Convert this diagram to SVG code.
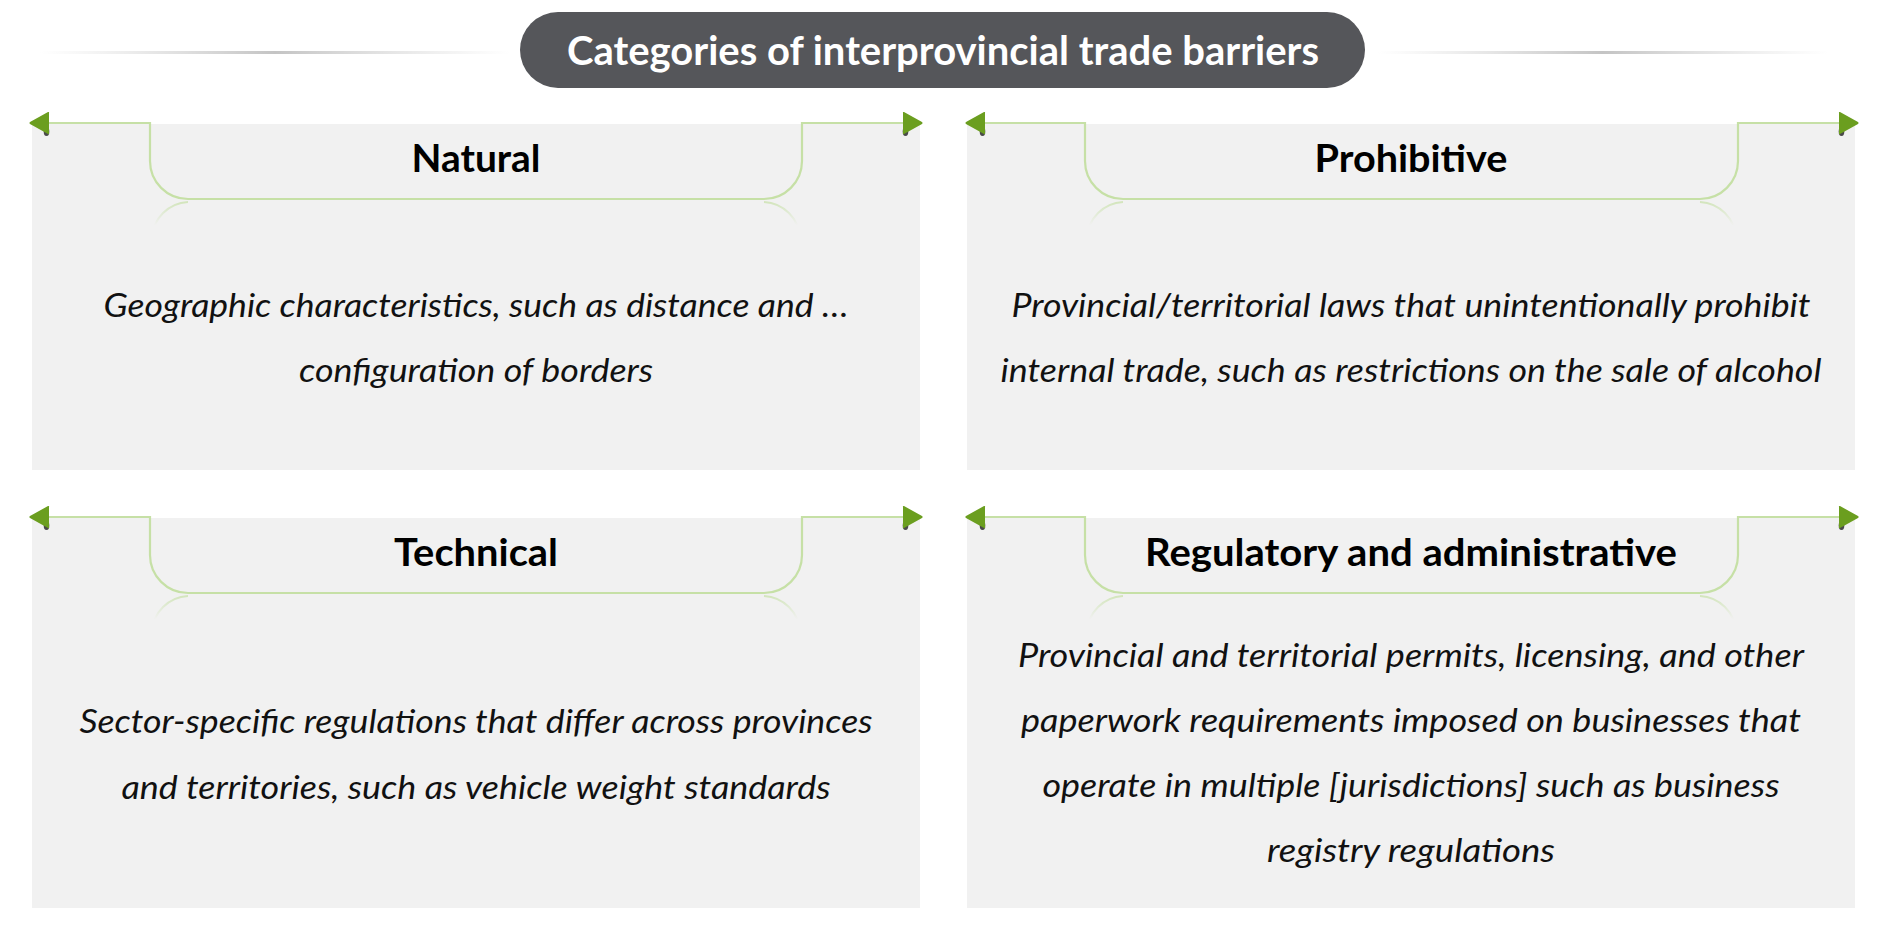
<svg xmlns="http://www.w3.org/2000/svg" width="1898" height="928" viewBox="0 0 1898 928">
  <style>
    .box { fill: #f1f1f1; }
    .bracket { fill: none; stroke: #c6e0a6; stroke-width: 2.2; }
    .refl { fill: none; stroke: url(#reflGrad); stroke-width: 2; }
    .title { font-family: Lato, "Open Sans", sans-serif; font-weight: 700; font-size: 40px; fill: #ffffff; text-anchor: middle; }
    .label { font-family: Lato, "Open Sans", sans-serif; font-weight: 700; font-size: 38px; fill: #000000; text-anchor: middle; }
    .body { font-family: Lato, "Open Sans", sans-serif; font-style: italic; font-size: 32px; fill: #111111; text-anchor: middle; }
  </style>
  <defs>
    <linearGradient id="lineGrad" x1="0" y1="0" x2="1" y2="0">
      <stop offset="0" stop-color="#d4d4d4" stop-opacity="0"/>
      <stop offset="0.5" stop-color="#c4c4c4" stop-opacity="1"/>
      <stop offset="1" stop-color="#d4d4d4" stop-opacity="0"/>
    </linearGradient>
    <linearGradient id="reflGrad" x1="0" y1="0" x2="0" y2="1">
      <stop offset="0" stop-color="#c6e0a6" stop-opacity="0.7"/>
      <stop offset="0.65" stop-color="#c6e0a6" stop-opacity="0"/>
    </linearGradient>
    <g id="arrowR">
      <ellipse cx="-17.5" cy="8.5" rx="2.8" ry="4.5" fill="#4a4a4a"/>
      <path d="M-19,-11 L-1,-0.9 Q0.3,0 -1,0.9 L-19,11 Q-20.5,11.5 -20,10 L-20,-10 Q-20.5,-11.5 -19,-11 Z" fill="#6b9e1f"/>
    </g>
  </defs>

  <rect width="1898" height="928" fill="#ffffff"/>

  <g id="title">
    <rect x="40" y="51" width="470" height="3" fill="url(#lineGrad)"/>
    <rect x="1378" y="51" width="450" height="3" fill="url(#lineGrad)"/>
    <rect x="520" y="12" width="845" height="76" rx="38" ry="38" fill="#55565a"/>
    <text class="title" x="943" y="65" textLength="752" lengthAdjust="spacingAndGlyphs">Categories of interprovincial trade barriers</text>
  </g>

  <g id="node-natural">
    <rect class="box" x="32" y="124" width="888" height="346"/>
    <path class="bracket" d="M46,123 H150 V161 A38,38 0 0 0 188,199 H764 A38,38 0 0 0 802,161 V123 H906"/>
    <path class="refl" d="M188,202 A38,38 0 0 0 152,238"/>
    <path class="refl" d="M764,202 A38,38 0 0 1 800,238"/>
    <use href="#arrowR" transform="translate(29,123) scale(-1,1)"/>
    <use href="#arrowR" transform="translate(923,123)"/>
    <text class="label" x="476" y="172" textLength="129" lengthAdjust="spacingAndGlyphs">Natural</text>
    <text class="body" x="476" y="317" textLength="745" lengthAdjust="spacingAndGlyphs">Geographic characteristics, such as distance and …</text>
    <text class="body" x="476" y="382" textLength="354" lengthAdjust="spacingAndGlyphs">configuration of borders</text>
  </g>

  <g id="node-prohibitive">
    <rect class="box" x="967" y="124" width="888" height="346"/>
    <path class="bracket" d="M981,123 H1085 V161 A38,38 0 0 0 1123,199 H1700 A38,38 0 0 0 1738,161 V123 H1842"/>
    <path class="refl" d="M1123,202 A38,38 0 0 0 1087,238"/>
    <path class="refl" d="M1700,202 A38,38 0 0 1 1736,238"/>
    <use href="#arrowR" transform="translate(965,123) scale(-1,1)"/>
    <use href="#arrowR" transform="translate(1859,123)"/>
    <text class="label" x="1411" y="172" textLength="193" lengthAdjust="spacingAndGlyphs">Prohibitive</text>
    <text class="body" x="1411" y="317" textLength="799" lengthAdjust="spacingAndGlyphs">Provincial/territorial laws that unintentionally prohibit</text>
    <text class="body" x="1411" y="382" textLength="821" lengthAdjust="spacingAndGlyphs">internal trade, such as restrictions on the sale of alcohol</text>
  </g>

  <g id="node-technical">
    <rect class="box" x="32" y="518" width="888" height="390"/>
    <path class="bracket" d="M46,517 H150 V555 A38,38 0 0 0 188,593 H764 A38,38 0 0 0 802,555 V517 H906"/>
    <path class="refl" d="M188,596 A38,38 0 0 0 152,632"/>
    <path class="refl" d="M764,596 A38,38 0 0 1 800,632"/>
    <use href="#arrowR" transform="translate(29,517) scale(-1,1)"/>
    <use href="#arrowR" transform="translate(923,517)"/>
    <text class="label" x="476" y="566" textLength="164" lengthAdjust="spacingAndGlyphs">Technical</text>
    <text class="body" x="476" y="733" textLength="793" lengthAdjust="spacingAndGlyphs">Sector-specific regulations that differ across provinces</text>
    <text class="body" x="476" y="799" textLength="709" lengthAdjust="spacingAndGlyphs">and territories, such as vehicle weight standards</text>
  </g>

  <g id="node-regulatory">
    <rect class="box" x="967" y="518" width="888" height="390"/>
    <path class="bracket" d="M981,517 H1085 V555 A38,38 0 0 0 1123,593 H1700 A38,38 0 0 0 1738,555 V517 H1842"/>
    <path class="refl" d="M1123,596 A38,38 0 0 0 1087,632"/>
    <path class="refl" d="M1700,596 A38,38 0 0 1 1736,632"/>
    <use href="#arrowR" transform="translate(965,517) scale(-1,1)"/>
    <use href="#arrowR" transform="translate(1859,517)"/>
    <text class="label" x="1411" y="566" textLength="532" lengthAdjust="spacingAndGlyphs">Regulatory and administrative</text>
    <text class="body" x="1411" y="667" textLength="786" lengthAdjust="spacingAndGlyphs">Provincial and territorial permits, licensing, and other</text>
    <text class="body" x="1411" y="732" textLength="780" lengthAdjust="spacingAndGlyphs">paperwork requirements imposed on businesses that</text>
    <text class="body" x="1411" y="797" textLength="737" lengthAdjust="spacingAndGlyphs">operate in multiple [jurisdictions] such as business</text>
    <text class="body" x="1411" y="862" textLength="288" lengthAdjust="spacingAndGlyphs">registry regulations</text>
  </g>

  <g id="connectors"></g>
</svg>
